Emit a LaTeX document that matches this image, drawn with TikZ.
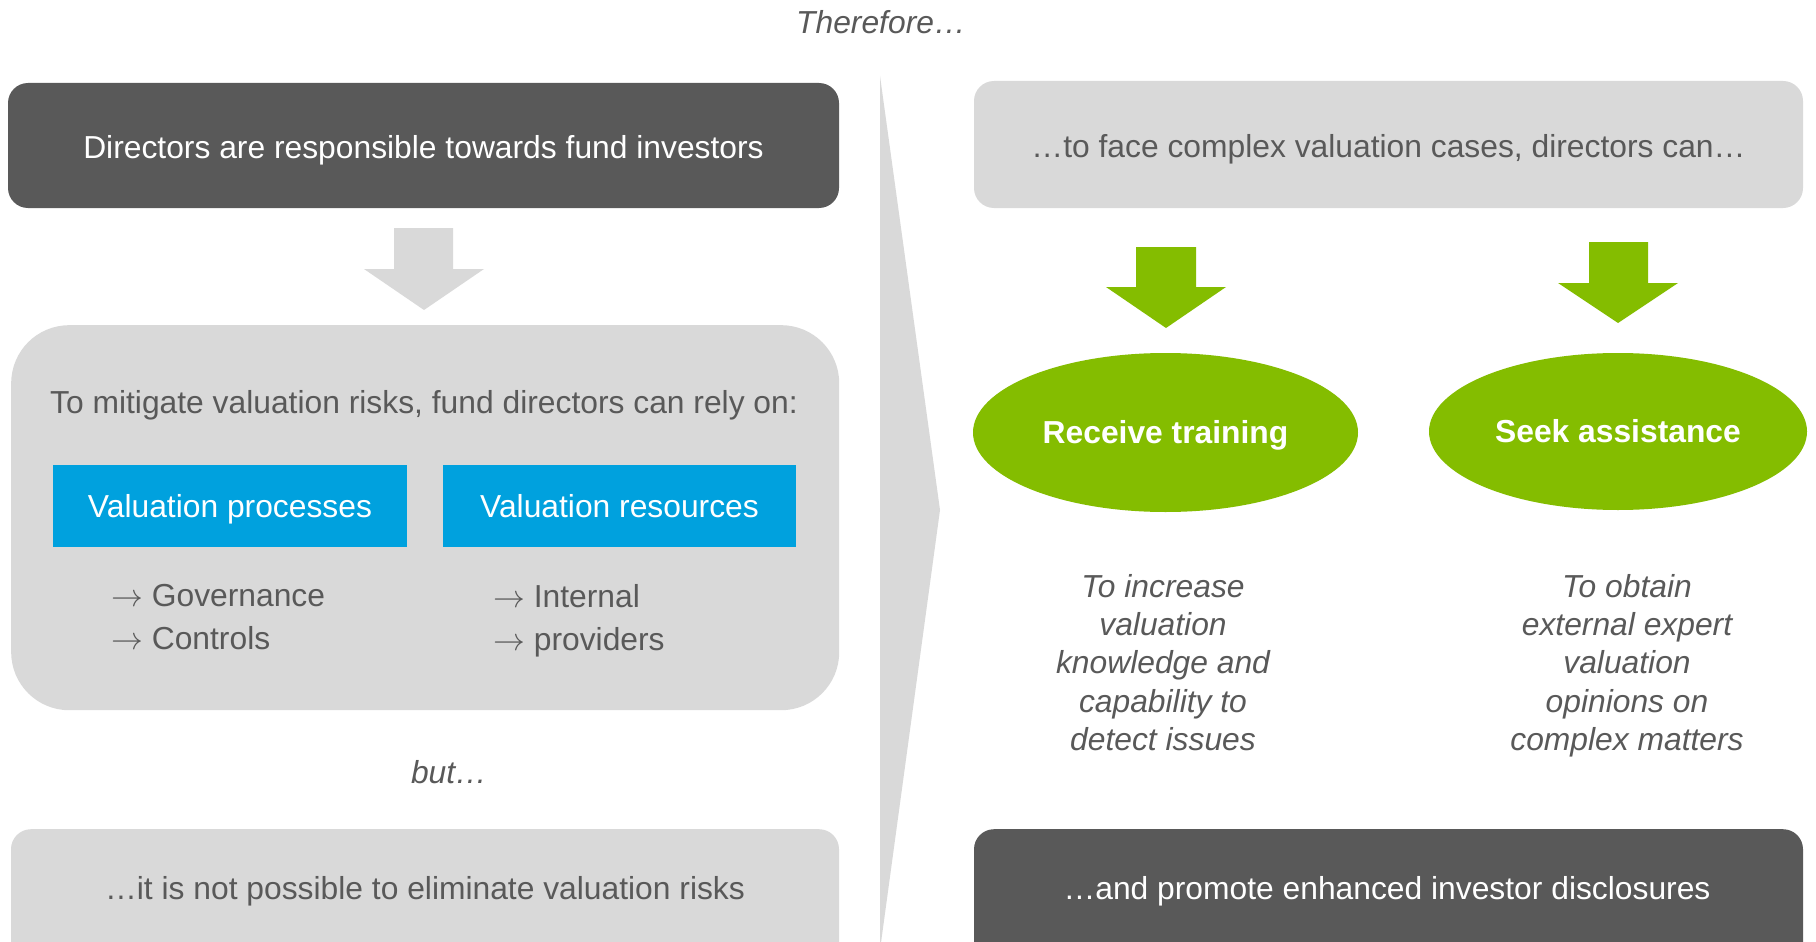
\RequirePackage{fix-cm}
\documentclass[tikz,border=0pt]{standalone}
\usepackage{fontspec}
\setmainfont{Liberation Sans}
\usetikzlibrary{shapes.geometric}
\definecolor{dgray}{HTML}{595959}
\definecolor{lgray}{HTML}{D9D9D9}
\definecolor{dblue}{HTML}{00A1DE}
\definecolor{dgreen}{HTML}{84BD00}
\newcommand{\rarr}{$\rightarrow$}
\begin{document}
\begin{tikzpicture}[x=1pt,y=-1pt,
  base/.style={font=\fontsize{31.8}{38.4}\selectfont, inner sep=0pt, text height=22.8pt, text depth=0pt},
  ital/.style={base, font=\fontsize{31.8}{38.4}\selectfont\itshape, text=dgray},
  darkbox/.style={base, fill=dgray, text=white, rounded corners=20pt},
  lightbox/.style={base, fill=lgray, text=dgray, rounded corners=20pt},
  bluebox/.style={base, fill=dblue, text=white},
  greenell/.style={ellipse, fill=dgreen, text=white, inner sep=0pt, text height=22.8pt, text depth=0pt,
     font=\fontsize{31.8}{38.4}\selectfont\bfseries},
  listtxt/.style={font=\fontsize{31.8}{43}\selectfont, text=dgray, inner sep=0pt, align=left},
  para/.style={font=\fontsize{31.8}{38.3}\selectfont\itshape, text=dgray, inner sep=0pt, align=center}
]
\useasboundingbox (0,0) rectangle (1816,942);
\clip (0,0) rectangle (1816,942);
\fill[white] (0,0) rectangle (1816,942);

% divider chevron
\fill[lgray] (880,76) -- (940,510) -- (880,950) -- cycle;

% title
\node[ital] (thf) at (881,22) {Therefore…};

% left column
\node[darkbox, text height=26.8pt, minimum width=831pt, minimum height=125pt] (dir) at (423.5,145.5) {Directors are responsible towards fund investors};

\fill[lgray] (394,228) -- (453,228) -- (453,269) -- (484,269) -- (424,310) -- (364,269) -- (394,269) -- cycle;

\node[lightbox, rounded corners=58pt, minimum width=828pt, minimum height=385pt, anchor=north west] (mit) at (11,325) {};
\node[base, text=dgray] (mitt) at (424,402.5) {To mitigate valuation risks, fund directors can rely on:};

\node[bluebox, minimum width=354pt, minimum height=82pt] (vp) at (230,506) {Valuation processes};
\node[bluebox, minimum width=353pt, minimum height=82pt] (vr) at (619.5,506) {Valuation resources};

\node[listtxt, anchor=north west] (gov) at (111,584) {\rarr{} Governance\\\rarr{} Controls};
\node[listtxt, anchor=north west] (res) at (493,584) {\rarr{} Internal\\\rarr{} providers};

\node[ital] (but) at (449,772.5) {but…};

\node[lightbox, minimum width=828pt, minimum height=160pt, anchor=north] (elim) at (425,829) {};
\node[base, text=dgray] (elimt) at (425,888) {…it is not possible to eliminate valuation risks};

% right column
\node[lightbox, text height=26.8pt, minimum width=829pt, minimum height=127pt] (face) at (1388.5,144.5) {…to face complex valuation cases, directors can…};

\fill[dgreen] (1136,247) -- (1196,247) -- (1196,287) -- (1226,287) -- (1166,328) -- (1106,287) -- (1136,287) -- cycle;
\fill[dgreen] (1589,242) -- (1648,242) -- (1648,283) -- (1678,283) -- (1618,323) -- (1558,283) -- (1589,283) -- cycle;

\node[greenell, minimum width=385pt, minimum height=159pt] (rt) at (1165.5,432.5) {Receive training};
\node[greenell, minimum width=378pt, minimum height=157pt] (sa) at (1618,431.5) {Seek assistance};

\node[para, anchor=north] (p1) at (1163,574) {To increase\\valuation\\knowledge and\\capability to\\detect issues};
\node[para, anchor=north] (p2) at (1627,574) {To obtain\\external expert\\valuation\\opinions on\\complex matters};

\node[darkbox, minimum width=829pt, minimum height=160pt, anchor=north] (disc) at (1388.5,829) {};
\node[base, text=white] (disct) at (1387,888) {…and promote enhanced investor disclosures};
\end{tikzpicture}
\end{document}
